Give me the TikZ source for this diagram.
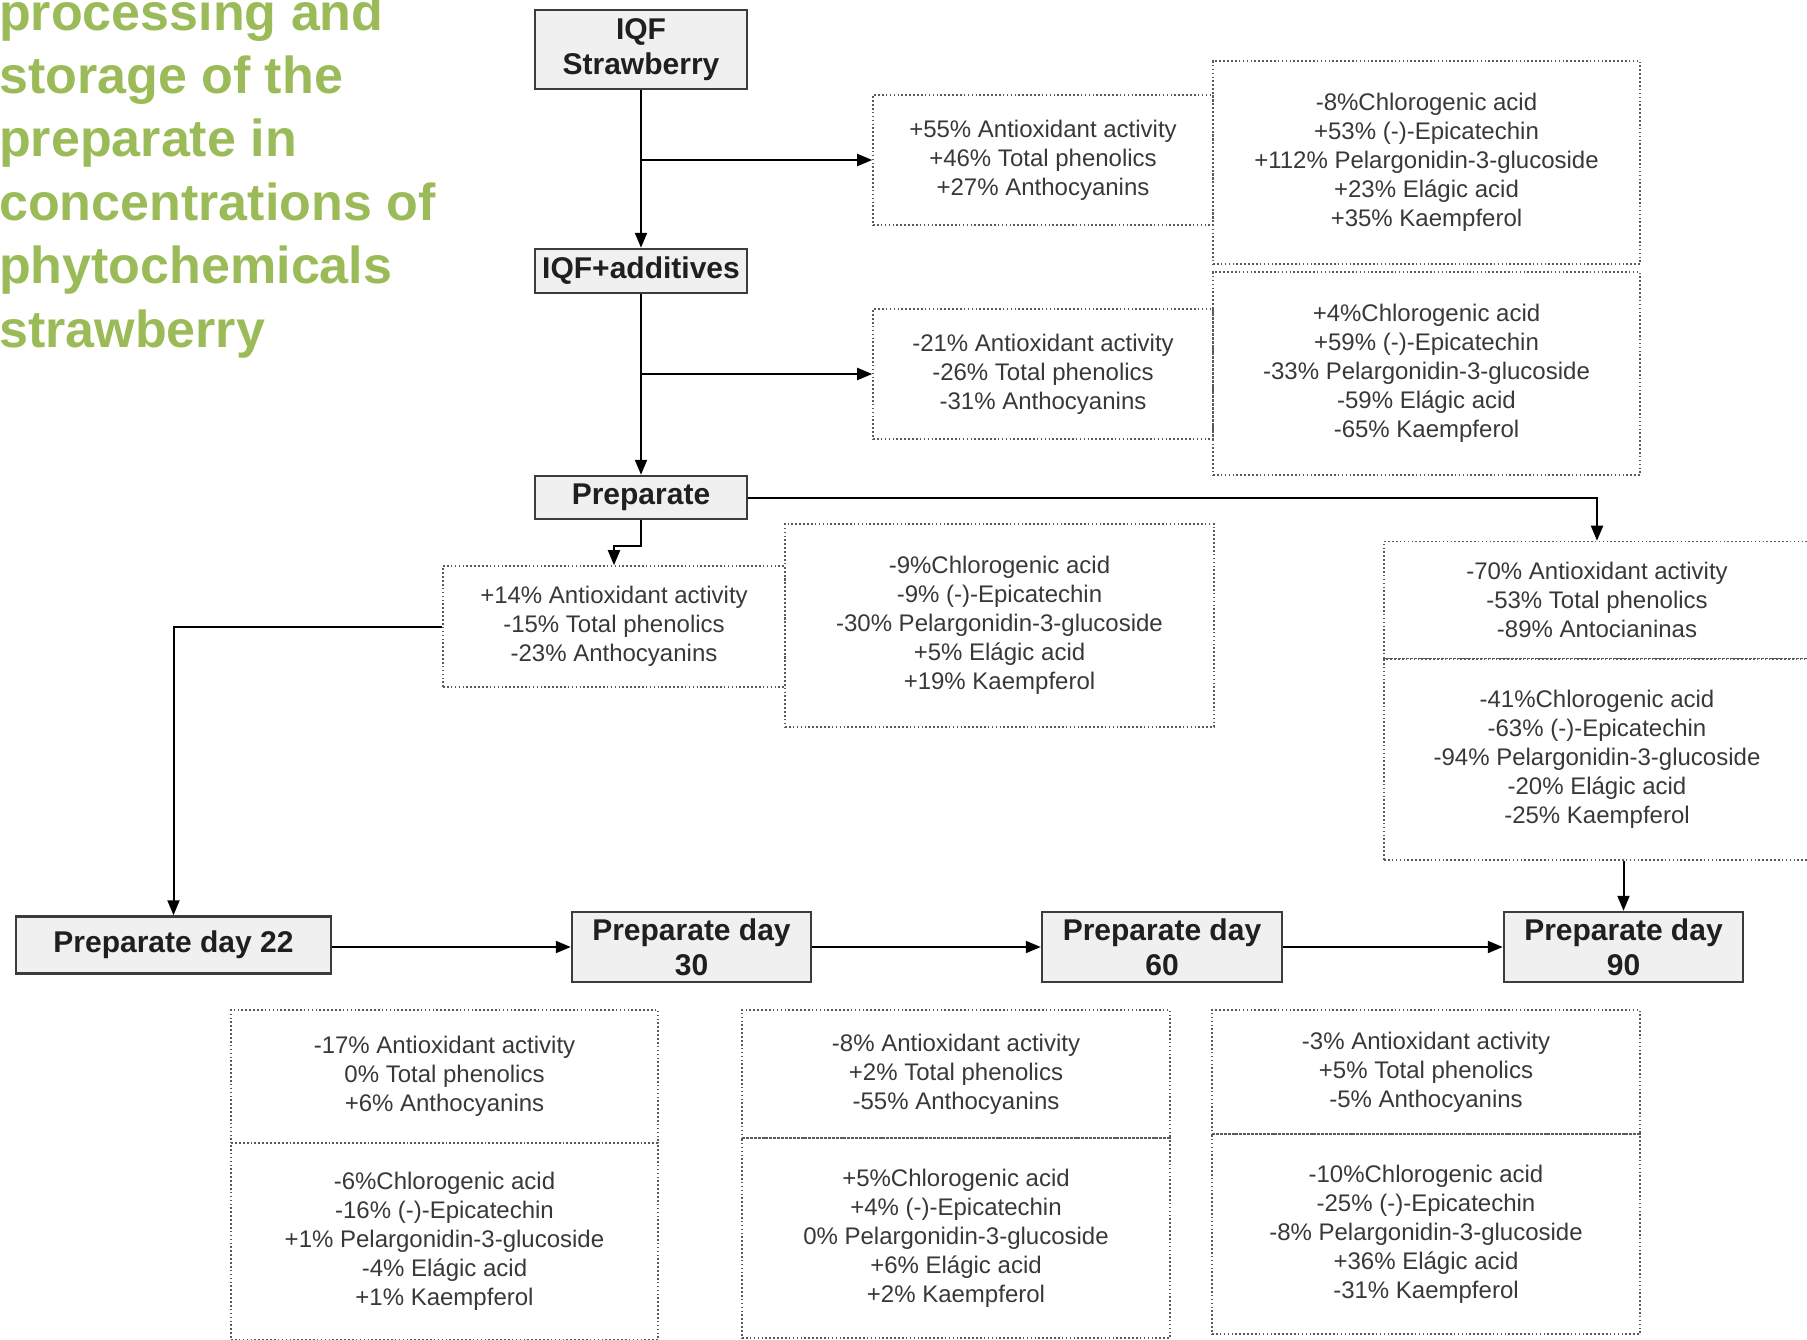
\documentclass[tikz,border=0pt]{standalone}
\usepackage{fontspec}
\setmainfont{Liberation Sans}
\usetikzlibrary{arrows.meta,calc}
\definecolor{titlegreen}{HTML}{9BBB59}
\definecolor{procfill}{HTML}{F0F0F0}
\definecolor{procline}{HTML}{3C3C3C}
\definecolor{dotgray}{HTML}{5A5A5A}
\definecolor{txtgray}{HTML}{383838}
\begin{document}
\begin{tikzpicture}[x=1pt,y=-1pt,
  proc/.style={draw=procline, fill=procfill, line width=2.5pt, inner sep=0pt, align=center,
    font=\fontsize{30}{35}\selectfont\bfseries, text=black!88},
  dbox/.style={draw=dotgray, dash pattern=on 1.6pt off 2.3pt, line width=1.6pt, inner sep=0pt,
    align=center, font=\fontsize{24}{29}\selectfont, text=txtgray},
  arr/.style={draw=black, line width=2pt, -{Triangle[length=15pt,width=12pt]}},
  ttl/.style={anchor=base west, inner sep=0pt, text=titlegreen, font=\fontsize{52}{63}\selectfont\bfseries}
]
\useasboundingbox (0,0) rectangle (1807,1339);
\clip (0,0) rectangle (1807,1339);

% title
\node[ttl] (t1) at (-1,30) {processing and};
\node[ttl] (t2) at (-1,93.4) {storage of the};
\node[ttl] (t3) at (-1,156.8) {preparate in};
\node[ttl] (t4) at (-1,220.2) {concentrations of};
\node[ttl] (t5) at (-1,283.6) {phytochemicals};
\node[ttl] (t6) at (-1,347) {strawberry};

% process boxes
\node[proc, minimum width=212, minimum height=79] (s1) at (641,49.5) {IQF\\Strawberry};
\node[proc, minimum width=212, minimum height=44] (s2) at (641,271) {IQF+additives};
\node[proc, minimum width=212, minimum height=43] (s3) at (641,497.5) {Preparate};
\node[proc, minimum width=315, minimum height=57] (p22) at (173.5,945) {Preparate day 22};
\node[proc, minimum width=239, minimum height=70] (p30) at (691.5,947) {Preparate day\\30};
\node[proc, minimum width=240, minimum height=70] (p60) at (1162,947) {Preparate day\\60};
\node[proc, minimum width=239, minimum height=70] (p90) at (1623.5,947) {Preparate day\\90};

% dotted boxes
\node[dbox, minimum width=340, minimum height=130] (A1) at (1043,160)
  {+55\% Antioxidant activity\\+46\% Total phenolics\\+27\% Anthocyanins};
\node[dbox, minimum width=427, minimum height=203] (A2) at (1426.5,162.5)
  {-8\%Chlorogenic acid\\+53\% (-)-Epicatechin\\+112\% Pelargonidin-3-glucoside\\+23\% Elágic acid\\+35\% Kaempferol};
\node[dbox, minimum width=340, minimum height=130] (B1) at (1043,374)
  {-21\% Antioxidant activity\\-26\% Total phenolics\\-31\% Anthocyanins};
\node[dbox, minimum width=427, minimum height=203] (B2) at (1426.5,373.5)
  {+4\%Chlorogenic acid\\+59\% (-)-Epicatechin\\-33\% Pelargonidin-3-glucoside\\-59\% Elágic acid\\-65\% Kaempferol};
\node[dbox, minimum width=342, minimum height=121] (C1) at (614,626.5)
  {+14\% Antioxidant activity\\-15\% Total phenolics\\-23\% Anthocyanins};
\node[dbox, minimum width=429, minimum height=203] (C2) at (999.5,625.5)
  {-9\%Chlorogenic acid\\-9\% (-)-Epicatechin\\-30\% Pelargonidin-3-glucoside\\+5\% Elágic acid\\+19\% Kaempferol};
\node[dbox, minimum width=426, minimum height=117] (D1) at (1597,600)
  {-70\% Antioxidant activity\\-53\% Total phenolics\\-89\% Antocianinas};
\node[dbox, minimum width=426, minimum height=201] (D2) at (1597,759.5)
  {-41\%Chlorogenic acid\\-63\% (-)-Epicatechin\\-94\% Pelargonidin-3-glucoside\\-20\% Elágic acid\\-25\% Kaempferol};
\node[dbox, minimum width=427, minimum height=133] (E1) at (444.5,1076.5)
  {-17\% Antioxidant activity\\0\% Total phenolics\\+6\% Anthocyanins};
\node[dbox, minimum width=427, minimum height=197] (E2) at (444.5,1241.5)
  {-6\%Chlorogenic acid\\-16\% (-)-Epicatechin\\+1\% Pelargonidin-3-glucoside\\-4\% Elágic acid\\+1\% Kaempferol};
\node[dbox, minimum width=428, minimum height=128] (F1) at (956,1074)
  {-8\% Antioxidant activity\\+2\% Total phenolics\\-55\% Anthocyanins};
\node[dbox, minimum width=428, minimum height=200] (F2) at (956,1238)
  {+5\%Chlorogenic acid\\+4\% (-)-Epicatechin\\0\% Pelargonidin-3-glucoside\\+6\% Elágic acid\\+2\% Kaempferol};
\node[dbox, minimum width=428, minimum height=124] (G1) at (1426,1072)
  {-3\% Antioxidant activity\\+5\% Total phenolics\\-5\% Anthocyanins};
\node[dbox, minimum width=428, minimum height=200] (G2) at (1426,1234)
  {-10\%Chlorogenic acid\\-25\% (-)-Epicatechin\\-8\% Pelargonidin-3-glucoside\\+36\% Elágic acid\\-31\% Kaempferol};

% connectors
\draw[arr] (s1) -- (s2);
\draw[arr] (s1.south |- A1.west) -- (A1.west);
\draw[arr] (s2) -- (s3);
\draw[arr] (s2.south |- B1.west) -- (B1.west);
\draw[arr] (s3.south) -- ++(0,26) -| (C1.north);
\draw[arr] (s3.east) -| (D1.north);
\draw[arr] (C1.west) -| (p22.north);
\draw[arr] (p22.east |- p30.west) -- (p30.west);
\draw[arr] (p30) -- (p60);
\draw[arr] (p60) -- (p90);
\draw[arr] (p90.north |- D2.south) -- (p90.north);
\end{tikzpicture}
\end{document}
